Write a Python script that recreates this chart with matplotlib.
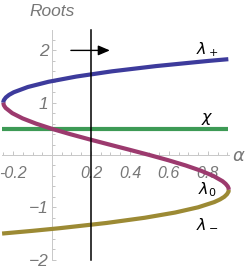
import matplotlib
matplotlib.use("Agg")
import matplotlib.pyplot as plt
from matplotlib.ticker import MultipleLocator, FixedLocator

# --- data (alpha values read for each root branch lambda) ---
lam_plus = [1.0, 1.02, 1.05, 1.1, 1.15, 1.2, 1.3, 1.4, 1.5, 1.6, 1.7, 1.8, 1.832]
alpha_plus = [-0.25, -0.2495, -0.2468, -0.237, -0.2202, -0.196, -0.124, -0.018, 0.125, 0.308, 0.534, 0.806, 0.905]

lam_zero = [1.0, 0.95, 0.9, 0.8, 0.7, 0.6, 0.5, 0.4, 0.3, 0.2, 0.1, 0.0, -0.1, -0.2,
            -0.3, -0.4, -0.5, -0.55, -0.6, -0.633, -0.667]
alpha_zero = [-0.25, -0.2469, -0.238, -0.204, -0.151, -0.082, 0.0, 0.092, 0.191, 0.294, 0.398,
              0.5, 0.597, 0.686, 0.764, 0.828, 0.875, 0.891, 0.902, 0.906, 0.9074]

lam_minus = [-0.667, -0.7, -0.75, -0.8, -0.85, -0.9, -1.0, -1.1, -1.2, -1.3, -1.4, -1.45, -1.5, -1.502]
alpha_minus = [0.9074, 0.906, 0.898, 0.884, 0.862, 0.833, 0.75, 0.632, 0.476, 0.279, 0.038, -0.0999, -0.25, -0.256]

chi_value = 0.5
chi_alpha = [-0.255, 0.905]
alpha_cut = 0.2
arrow_start = 0.097
arrow_end = 0.297
arrow_level = 2.0

x_ticks = [-0.2, 0.2, 0.4, 0.6, 0.8]
x_ticklabels = ["-0.2", "0.2", "0.4", "0.6", "0.8"]
y_ticks = [-2, -1, 1, 2]
y_ticklabels = ["\u22122", "\u22121", "1", "2"]

# --- style ---
c_plus = "#3d3b9c"
c_zero = "#9c3a6e"
c_minus = "#9c8a34"
c_chi = "#3d9a55"
gray = "#777777"
tickfont = dict(family=["Liberation Sans Narrow", "Liberation Sans", "DejaVu Sans"], style="italic")

fig = plt.figure(figsize=(2.45, 2.73), dpi=100)
xmin, xmax = -0.255, 0.91
ymin, ymax = -2.0, 2.39
ax = fig.add_axes([2.3 / 245, (273 - 259.6) / 273, 227.0 / 245, 229.6 / 273])
ax.set_xlim(xmin, xmax)
ax.set_ylim(ymin, ymax)

ax.plot(chi_alpha, [chi_value, chi_value], color=c_chi, lw=3.0, clip_on=False, solid_capstyle="butt", zorder=3)
ax.plot(alpha_plus, lam_plus, color=c_plus, lw=3.0, clip_on=False, solid_capstyle="butt", zorder=4)
ax.plot(alpha_zero, lam_zero, color=c_zero, lw=3.0, clip_on=False, solid_capstyle="butt", zorder=4)
ax.plot(alpha_minus, lam_minus, color=c_minus, lw=3.0, clip_on=False, solid_capstyle="butt", zorder=4)

ax.plot([alpha_cut, alpha_cut], [ymin, ymax], color="black", lw=1.1, zorder=5, clip_on=False)
ax.annotate("", xy=(arrow_end, arrow_level), xytext=(arrow_start, arrow_level),
            arrowprops=dict(arrowstyle="-|>,head_length=0.7,head_width=0.3", color="black", lw=1.0,
                            shrinkA=0, shrinkB=0), zorder=6)

for s in ["top", "right"]:
    ax.spines[s].set_visible(False)
ax.spines["left"].set_position(("data", 0))
ax.spines["bottom"].set_position(("data", 0))
for s in ["left", "bottom"]:
    ax.spines[s].set_color("#c8c8c8")
    ax.spines[s].set_linewidth(0.7)

ax.xaxis.set_major_locator(FixedLocator(x_ticks))
ax.set_xticklabels(x_ticklabels, color=gray, fontsize=11.5, **tickfont)
ax.xaxis.set_minor_locator(MultipleLocator(0.05))
ax.yaxis.set_major_locator(FixedLocator(y_ticks))
ax.set_yticklabels(y_ticklabels, color=gray, fontsize=12.5, **tickfont)
ax.yaxis.set_minor_locator(MultipleLocator(0.2))
ax.tick_params(which="both", direction="in", color="#bbbbbb", width=0.6)
ax.tick_params(which="major", length=3.0)
ax.tick_params(which="minor", length=2.0)
ax.tick_params(axis="x", which="major", pad=8)
ax.tick_params(axis="y", which="major", pad=2.5)
ax.patch.set_visible(False)

fig.text(52 / 245, 1 - 12 / 273, "Roots", color=gray, fontsize=12.5, ha="center", va="center", **tickfont)
fig.text(238 / 245, 1 - 156 / 273, "\u03b1", color=gray, fontsize=13, ha="center", va="center",
         family="DejaVu Sans", style="italic")

lab = dict(fontsize=11.5, ha="center", va="center", color="black")
fig.text(207 / 245, 1 - 50 / 273, r"$\lambda_+$", **lab)
fig.text(207 / 245, 1 - 119 / 273, r"$\chi$", **lab)
fig.text(207 / 245, 1 - 190 / 273, r"$\lambda_0$", **lab)
fig.text(207 / 245, 1 - 224 / 273, r"$\lambda_-$", **lab)

fig.savefig("out.png", dpi=100)
